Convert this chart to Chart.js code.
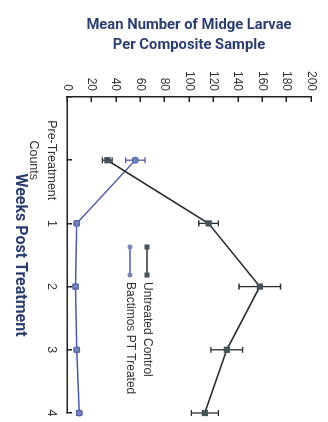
<!DOCTYPE html>
<html>
<head>
<meta charset="utf-8">
<script src="https://cdn.jsdelivr.net/npm/chart.js@4.4.0/dist/chart.umd.min.js"></script>
<style>
html,body{margin:0;padding:0;background:#fff;overflow:hidden;}
/* o gráfico original está girado 90 graus */
#giro{position:absolute;left:0;top:0;width:422px;height:328px;transform-origin:0 0;transform:translate(328px,0) rotate(90deg);}
</style>
</head>
<body>
<div id="giro"><canvas id="myChart1" width="422" height="328"></canvas></div>
<script>
const semanas = ['', ['Pre-Treatment', 'Counts'], '1', '2', '3', '4'];
const controle = [null, 33, 116, 158, 131, 113];
const controleErro = [null, 4, 8, 17, 13, 11];
const bactimos = [null, 56, 8, 7, 8, 10];
const bactimosErro = [null, 8, 2, 2, 2, 2];

const estreita = "Roboto, sans-serif";
const normal = "'Liberation Sans', Arial, sans-serif";
const azulTitulo = '#2c3d70';

// barras de erro desenhadas com a escala y do gráfico
const barrasErro = {
  id: 'barrasErro',
  beforeDatasetsDraw(chart) {
    const ctx = chart.ctx;
    const y = chart.scales.y;
    chart.data.datasets.forEach((ds, i) => {
      const meta = chart.getDatasetMeta(i);
      meta.data.forEach((pt, j) => {
        const v = ds.data[j], e = ds.erros[j];
        if (v == null || !e) return;
        const a = y.getPixelForValue(v + e), b = y.getPixelForValue(v - e);
        ctx.save();
        ctx.strokeStyle = ds.borderColor;
        ctx.lineWidth = 1.3;
        ctx.beginPath();
        ctx.moveTo(pt.x, a); ctx.lineTo(pt.x, b);
        ctx.moveTo(pt.x - 3, a); ctx.lineTo(pt.x + 3, a);
        ctx.moveTo(pt.x - 3, b); ctx.lineTo(pt.x + 3, b);
        ctx.stroke();
        ctx.restore();
      });
    });
  }
};

// legenda dentro da área do gráfico (linha com marcador nas duas pontas)
const legendaDentro = {
  id: 'legendaDentro',
  afterDraw(chart) {
    const ctx = chart.ctx;
    const x0 = 247, x1 = 275, linhas = [181, 198];
    chart.data.datasets.forEach((ds, i) => {
      const yy = linhas[i];
      ctx.save();
      ctx.strokeStyle = ds.borderColor;
      ctx.lineWidth = 1.5;
      ctx.beginPath(); ctx.moveTo(x0, yy); ctx.lineTo(x1, yy); ctx.stroke();
      ctx.fillStyle = ds.pointBackgroundColor;
      [x0, x1].forEach(px => {
        ctx.beginPath();
        if (ds.pointStyle === 'rect') ctx.rect(px - 2.5, yy - 2.5, 5, 5);
        else ctx.arc(px, yy, 2.5, 0, Math.PI * 2);
        ctx.fill();
      });
      ctx.fillStyle = '#333';
      ctx.font = '12px ' + normal;
      ctx.textBaseline = 'middle';
      ctx.fillText(ds.label, 282, yy);
      ctx.restore();
    });
  }
};

const ctx = document.getElementById('myChart1').getContext('2d');
var myChart1 = new Chart(ctx, {
    type: 'line',
    data: {
        labels: semanas,
        datasets: [{
            label: 'Untreated Control',
            data: controle,
            erros: controleErro,
            borderColor: '#2a2d30',
            borderWidth: 1.6,
            pointStyle: 'rect',
            pointRadius: 3.3,
            pointBackgroundColor: '#45545a',
            pointBorderColor: '#45545a',
            tension: 0
        }, {
            label: 'Bactimos PT Treated',
            data: bactimos,
            erros: bactimosErro,
            borderColor: '#4d5aa6',
            borderWidth: 1.4,
            pointStyle: 'circle',
            pointRadius: 2.8,
            pointBackgroundColor: '#7b86bd',
            pointBorderColor: '#5c68ad',
            tension: 0
        }]
    },
    options: {
        responsive: false,
        animation: false,
        layout: {padding: {top: 17, right: 9, left: 0, bottom: 0}},
        plugins: {
            legend: {display: false},
            tooltip: {enabled: false}
        },
        scales: {
            x: {
                offset: false,
                grid: {drawOnChartArea: false, tickLength: -5, color: '#222', lineWidth: 1.5},
                border: {color: '#222', width: 1.5},
                ticks: {color: '#333', font: {family: normal, size: 12.5, lineHeight: 1.45}, padding: 11, maxRotation: 0, autoSkip: false},
                title: {display: true, text: 'Weeks Post Treatment', color: azulTitulo,
                        font: {family: estreita, size: 16, weight: 'bold'}, padding: {top: 0, bottom: 10}},
                afterFit(s) { s.height = 67; s.paddingLeft = 0; s.paddingRight = 0; }
            },
            y: {
                min: 0, max: 200,
                grid: {drawOnChartArea: false, tickLength: -5, color: '#222', lineWidth: 1.5},
                border: {color: '#222', width: 1.5},
                ticks: {stepSize: 20, color: '#333', font: {family: normal, size: 12}, padding: 11},
                title: {display: true, text: ['Mean Number of Midge Larvae', 'Per Composite Sample'], color: azulTitulo,
                        font: {family: estreita, size: 14.8, weight: 'bold', lineHeight: 1.3}, padding: {top: 16, bottom: 0}},
                afterFit(s) { s.width = 97; s.paddingTop = 0; s.paddingBottom = 0; }
            }
        }
    },
    plugins: [barrasErro, legendaDentro]
});
</script>
</body>
</html>
